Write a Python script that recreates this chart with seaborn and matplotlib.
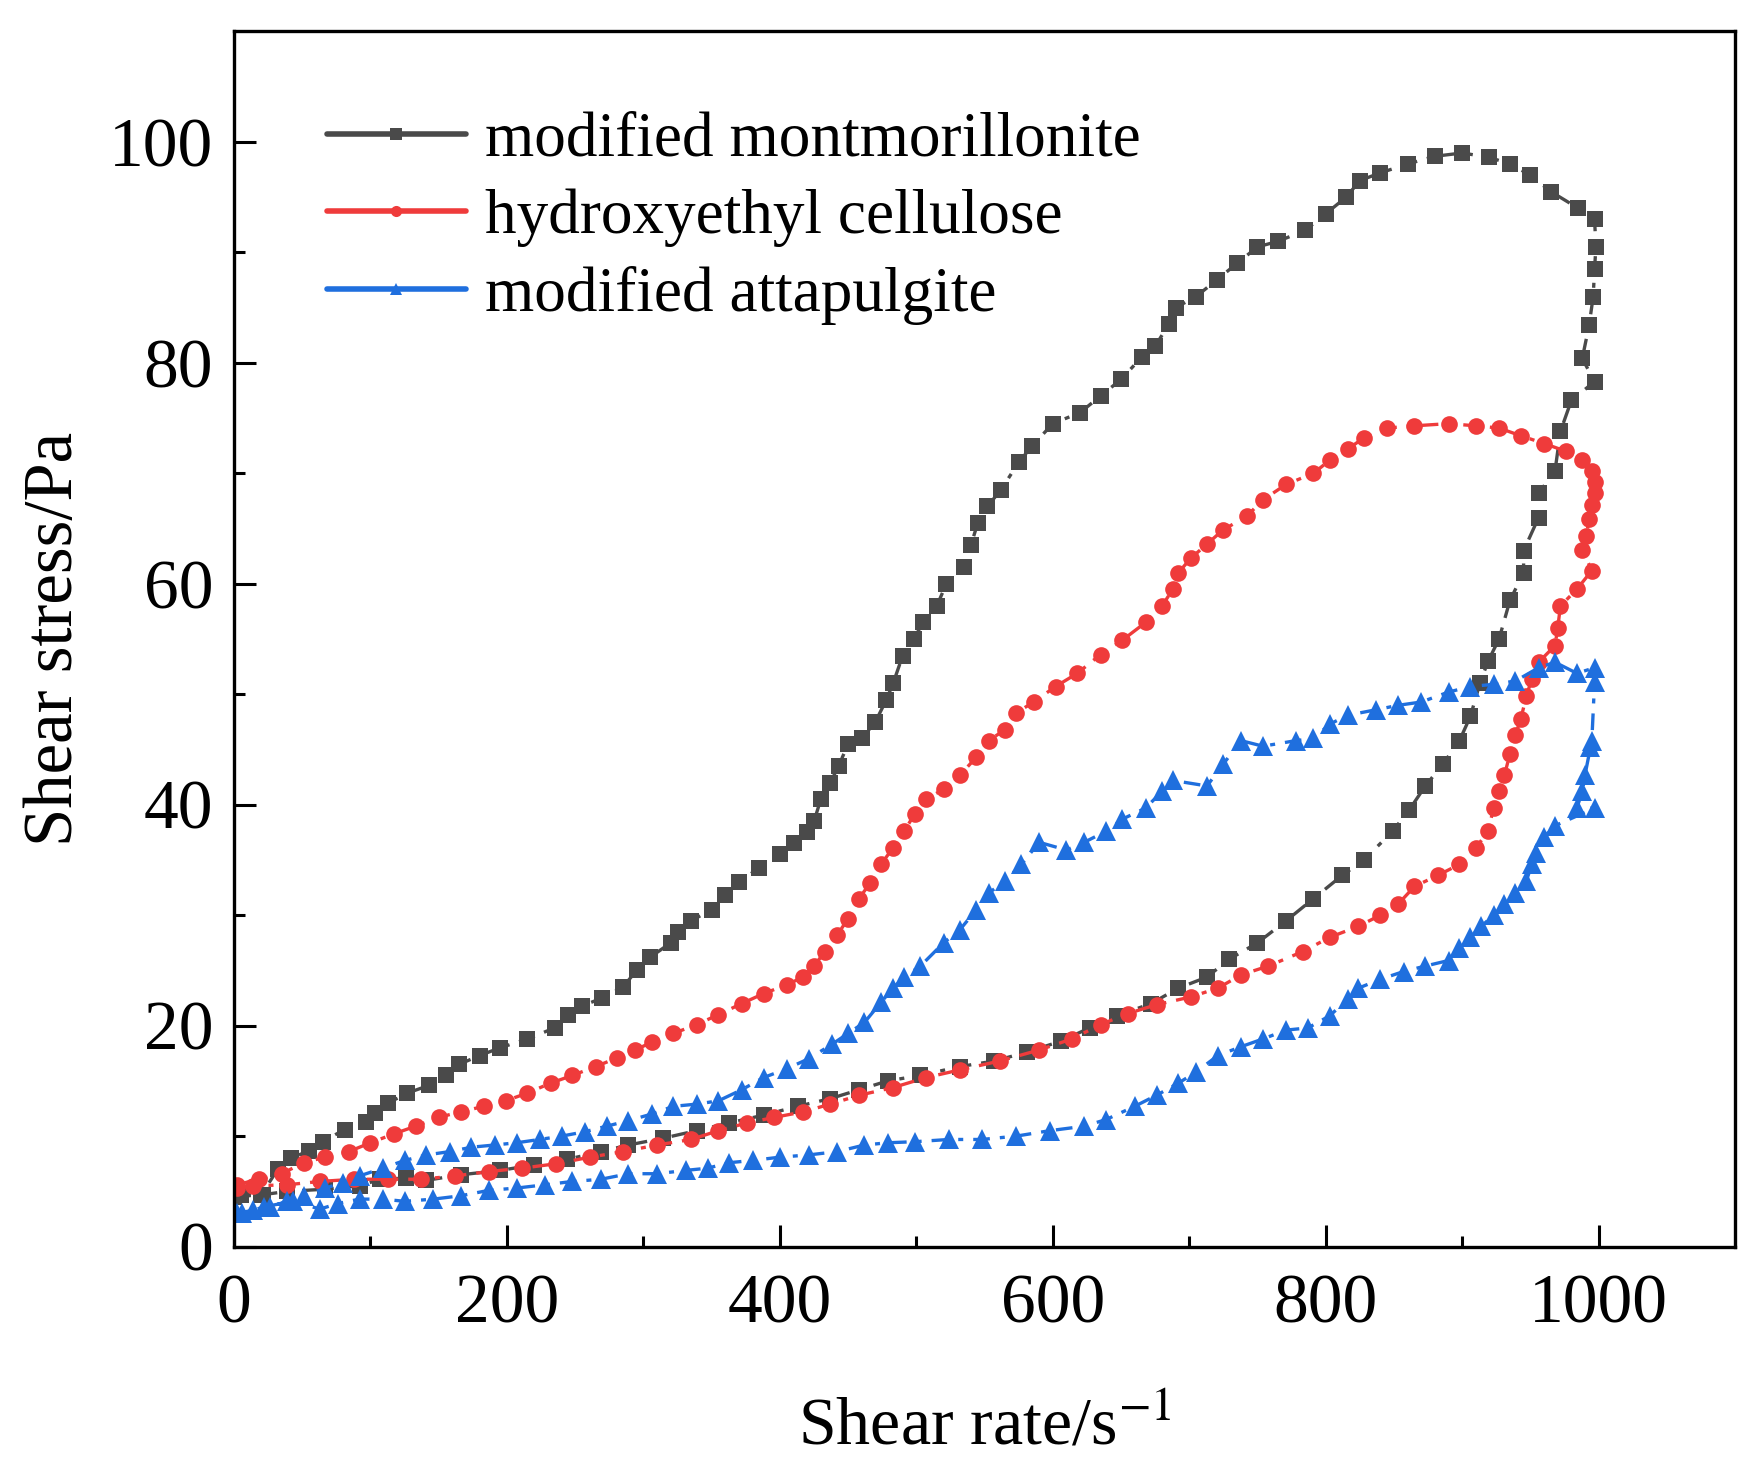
import pandas as pd
import seaborn as sns
import matplotlib.pyplot as plt
from matplotlib.lines import Line2D

# shear rate / shear stress, loading (up) branch then unloading (down) branch
mont_up_x = [0, 20, 32, 42, 55, 65, 81, 97, 103, 113, 127, 143, 155, 165, 180, 195, 215, 235, 245, 255,
             270, 285, 295, 305, 320, 325, 335, 350, 360, 370, 385, 400, 410, 420, 425, 430, 437, 443, 450, 460,
             470, 478, 483, 490, 498, 505, 515, 522, 535, 540, 545, 552, 562, 575, 585, 600, 620, 635, 650, 665,
             675, 685, 690, 705, 720, 735, 750, 765, 785, 800, 815, 825, 840, 860, 880, 900, 920, 935, 950, 965,
             985, 997, 998, 997, 996, 993, 988, 997]
mont_up_y = [4.5, 4.7, 7.0, 8.0, 8.7, 9.5, 10.6, 11.3, 12.1, 13.0, 13.9, 14.6, 15.5, 16.5, 17.3, 18.0, 18.8, 19.8, 21.0, 21.8,
             22.5, 23.5, 25.0, 26.2, 27.5, 28.5, 29.5, 30.5, 31.8, 33.0, 34.3, 35.5, 36.5, 37.5, 38.5, 40.5, 42.0, 43.5, 45.5, 46.0,
             47.5, 49.5, 51.0, 53.5, 55.0, 56.5, 58.0, 60.0, 61.5, 63.5, 65.5, 67.0, 68.5, 71.0, 72.5, 74.5, 75.5, 77.0, 78.5, 80.5,
             81.5, 83.5, 85.0, 86.0, 87.5, 89.0, 90.5, 91.0, 92.0, 93.5, 95.0, 96.5, 97.2, 98.0, 98.7, 99.0, 98.6, 98.0, 97.0, 95.5,
             94.0, 93.0, 90.5, 88.5, 86.0, 83.4, 80.4, 78.3]
mont_down_x = [980, 972, 968, 956, 956, 945, 945, 935, 927, 919, 913, 906, 898, 886, 873, 861, 849, 828, 812, 791,
               771, 750, 729, 713, 692, 672, 647, 627, 606, 581, 557, 532, 503, 479, 458, 437, 413, 388, 363, 339,
               314, 289, 269, 244, 220, 195, 166, 141, 126, 107, 92, 67, 39, 21, 5]
mont_down_y = [76.6, 73.8, 70.2, 68.2, 66.0, 63.0, 61.0, 58.5, 55.0, 53.0, 51.0, 48.0, 45.8, 43.7, 41.7, 39.5, 37.6, 35.0, 33.6, 31.5,
               29.5, 27.5, 26.0, 24.4, 23.4, 22.0, 20.9, 19.8, 18.6, 17.6, 16.8, 16.3, 15.5, 15.0, 14.2, 13.4, 12.7, 11.9, 11.2, 10.5,
               9.8, 9.2, 8.6, 7.9, 7.4, 6.9, 6.5, 6.0, 6.2, 6.1, 5.5, 5.2, 5.0, 4.7, 4.7]

hec_up_x = [2, 18, 35, 51, 67, 84, 100, 117, 133, 150, 166, 183, 199, 215, 232, 248, 265, 281, 294, 306,
            322, 339, 355, 372, 388, 405, 417, 425, 433, 442, 450, 458, 466, 474, 483, 491, 499, 507, 520, 532,
            544, 553, 565, 573, 586, 602, 618, 635, 651, 668, 680, 688, 692, 701, 713, 725, 742, 754, 771, 791,
            803, 816, 828, 845, 865, 890, 910, 927, 943, 960, 976, 988, 995, 997, 997, 995, 993, 991, 988, 995]
hec_up_y = [5.6, 6.1, 6.6, 7.6, 8.1, 8.6, 9.4, 10.2, 10.9, 11.7, 12.2, 12.7, 13.2, 13.9, 14.8, 15.5, 16.3, 17.1, 17.8, 18.5,
            19.3, 20.1, 21.0, 22.0, 22.9, 23.7, 24.4, 25.4, 26.7, 28.2, 29.7, 31.5, 32.9, 34.6, 36.1, 37.6, 39.2, 40.5, 41.4, 42.7,
            44.3, 45.8, 46.8, 48.3, 49.3, 50.7, 51.9, 53.6, 54.9, 56.5, 58.0, 59.5, 61.0, 62.3, 63.6, 64.9, 66.1, 67.6, 69.0, 70.0,
            71.2, 72.2, 73.2, 74.1, 74.3, 74.5, 74.3, 74.1, 73.4, 72.7, 72.0, 71.2, 70.2, 69.2, 68.2, 67.1, 65.9, 64.3, 63.1, 61.2]
hec_down_x = [984, 972, 970, 968, 956, 951, 947, 943, 939, 935, 931, 927, 923, 919, 910, 898, 882, 865, 853, 840,
              824, 803, 783, 758, 738, 721, 701, 676, 655, 635, 614, 590, 561, 532, 507, 483, 458, 437, 417, 396,
              376, 355, 335, 310, 285, 261, 236, 211, 187, 162, 137, 113, 88, 63, 39, 14, 2]
hec_down_y = [59.5, 58.0, 56.0, 54.4, 52.9, 51.4, 49.8, 47.8, 46.3, 44.6, 42.7, 41.2, 39.7, 37.6, 36.1, 34.6, 33.6, 32.6, 31.0, 30.0,
              29.0, 28.0, 26.7, 25.4, 24.6, 23.4, 22.6, 21.9, 21.1, 20.1, 18.8, 17.8, 16.8, 16.0, 15.3, 14.4, 13.7, 12.9, 12.2, 11.7,
              11.2, 10.5, 9.7, 9.2, 8.6, 8.1, 7.5, 7.1, 6.8, 6.4, 6.1, 6.1, 6.1, 5.9, 5.6, 5.5, 5.3]

att_up_x = [2, 14, 26, 39, 51, 67, 80, 92, 109, 125, 141, 158, 174, 191, 207, 224, 240, 257, 273, 289,
            306, 322, 339, 355, 372, 388, 405, 421, 438, 450, 462, 474, 483, 491, 503, 520, 532, 544, 553, 565,
            577, 590, 610, 623, 639, 651, 668, 680, 688, 713, 725, 738, 754, 778, 791, 803, 816, 837, 853, 870,
            890, 906, 923, 939, 956, 968, 984, 997, 997]
att_up_y = [3.0, 3.3, 3.6, 4.1, 4.6, 5.3, 5.8, 6.4, 7.1, 7.8, 8.3, 8.6, 9.0, 9.2, 9.4, 9.7, 10.0, 10.4, 10.9, 11.4,
            12.0, 12.7, 12.9, 13.2, 14.2, 15.3, 16.1, 17.0, 18.3, 19.3, 20.3, 22.1, 23.4, 24.4, 25.4, 27.5, 28.7, 30.5, 32.0, 33.1,
            34.6, 36.6, 35.9, 36.6, 37.6, 38.7, 39.7, 41.2, 42.2, 41.7, 43.7, 45.8, 45.3, 45.8, 46.0, 47.3, 48.1, 48.6, 49.0, 49.3,
            50.2, 50.7, 50.9, 51.2, 52.4, 52.9, 51.9, 52.4, 51.1]
att_down_x = [995, 994, 990, 988, 984, 997, 968, 960, 954, 951, 947, 939, 931, 923, 914, 906, 898, 890, 873, 857,
              840, 824, 816, 803, 787, 771, 754, 738, 721, 705, 692, 676, 660, 639, 623, 598, 573, 548, 524, 499,
              479, 462, 442, 421, 400, 380, 363, 347, 331, 310, 289, 269, 248, 228, 207, 187, 166, 146, 125, 109,
              92, 76, 63, 43, 22, 6]
att_down_y = [45.8, 45.2, 42.7, 41.2, 39.7, 39.7, 38.1, 37.1, 35.6, 34.6, 33.1, 32.0, 31.0, 30.0, 29.0, 28.0, 27.0, 25.9, 25.4, 24.9,
              24.2, 23.4, 22.4, 20.9, 19.8, 19.6, 18.8, 18.1, 17.3, 15.8, 14.8, 13.7, 12.7, 11.5, 10.9, 10.5, 10.0, 9.7, 9.7, 9.5,
              9.4, 9.2, 8.6, 8.3, 8.1, 7.8, 7.6, 7.1, 6.9, 6.6, 6.6, 6.1, 5.9, 5.6, 5.3, 5.1, 4.6, 4.3, 4.1, 4.3,
              4.3, 3.9, 3.4, 4.1, 3.6, 3.0]

labels = ["modified montmorillonite", "hydroxyethyl cellulose", "modified attapulgite"]
colors = ["#4a4a4a", "#ef3b3b", "#1f6fde"]
markers = ["s", "o", "^"]
msizes = [11.5, 12, 14]

sns.set_theme(style="ticks")
plt.rcParams['font.family'] = ['Liberation Serif', 'DejaVu Serif']
plt.rcParams['mathtext.fontset'] = 'stix'
for key in ["text.color", "axes.labelcolor", "xtick.color", "ytick.color", "axes.edgecolor"]:
    plt.rcParams[key] = "black"


def main():
    series = [(mont_up_x + mont_down_x, mont_up_y + mont_down_y),
              (hec_up_x + hec_down_x, hec_up_y + hec_down_y),
              (att_up_x + att_down_x, att_up_y + att_down_y)]

    fig = plt.figure(figsize=(17.61, 14.63), dpi=100)
    ax = fig.add_axes([0.1329, 0.1479, 0.8524, 0.8306])

    handles = []
    for (xs, ys), lab, c, m, ms in zip(series, labels, colors, markers, msizes):
        df = pd.DataFrame({"rate": xs, "stress": ys})
        sns.lineplot(data=df, x="rate", y="stress", sort=False, estimator=None, ax=ax,
                     color=c, marker=m, markersize=ms, markeredgewidth=0,
                     linewidth=2.4, linestyle=(0, (5, 3, 1.5, 3)))
        handles.append(Line2D([], [], color=c, marker=m, markersize=8, linewidth=4,
                              markeredgewidth=0))

    ax.set_xlim(0, 1100)
    ax.set_ylim(0, 110)
    ax.set_xticks([0, 200, 400, 600, 800, 1000])
    ax.set_xticks([100, 300, 500, 700, 900], minor=True)
    ax.set_yticks([0, 20, 40, 60, 80, 100])
    ax.set_yticks([10, 30, 50, 70, 90], minor=True)
    ax.tick_params(which="major", direction="in", length=16, width=2.2, labelsize=50, color="black")
    ax.tick_params(which="minor", direction="in", length=8, width=2.2, color="black")
    ax.tick_params(axis="x", which="major", pad=20)
    ax.tick_params(axis="y", which="major", pad=15)
    for sp in ax.spines.values():
        sp.set_linewidth(2.4)
        sp.set_color("black")

    ax.set_xlabel(r"Shear rate/s$^{-1}$", fontsize=49, labelpad=42)
    ax.set_ylabel("Shear stress/Pa", fontsize=49.5, labelpad=16)

    ax.legend(handles, labels, loc="upper left", bbox_to_anchor=(0.045, 0.955), frameon=False,
              fontsize=45.5, handlelength=2.2, handletextpad=0.3, labelspacing=0.3, borderaxespad=0)

    plt.savefig("out.png", dpi=100)


if __name__ == "__main__":
    main()
